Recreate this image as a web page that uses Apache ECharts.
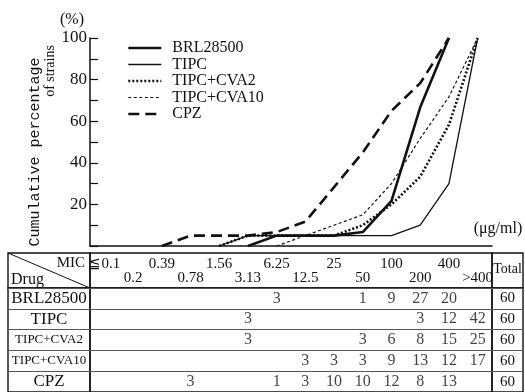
<!DOCTYPE html>
<html>
<head>
<meta charset="utf-8">
<script src="https://cdn.jsdelivr.net/npm/echarts@6/dist/echarts.min.js"></script>
<style>
html,body{margin:0;padding:0;background:#fff;}
#c{width:525px;height:392px;}
</style>
</head>
<body>
<div id="c"></div>
<script>
// ---- data ----
const categories = ['≦0.1','0.2','0.39','0.78','1.56','3.13','6.25','12.5','25','50','100','200','400','>400'];
const drugs = ['BRL28500','TIPC','TIPC+CVA2','TIPC+CVA10','CPZ'];
const yTicks = [0,20,40,60,80,100];

// cumulative percentage of strains
const cumBRL   = [null,null,null,null,null,0,5,5,5,6.7,21.7,66.7,100,null];
const cumTIPC  = [null,null,null,null,0,5,5,5,5,5,5,10,30,100];
const cumCVA2  = [null,null,null,null,0,5,5,5,5,10,20,33.3,58.3,100];
const cumCVA10 = [null,null,null,null,null,null,0,5,10,15,30,51.7,71.7,100];
const cumCPZ   = [null,null,0,5,5,5,6.7,11.7,28.3,45,65,78.3,100,null];

// number of strains per MIC (table)
const cntBRL   = [null,null,null,null,null,null,3,null,null,1,9,27,20,null];
const cntTIPC  = [null,null,null,null,null,3,null,null,null,null,null,3,12,42];
const cntCVA2  = [null,null,null,null,null,3,null,null,null,3,6,8,15,25];
const cntCVA10 = [null,null,null,null,null,null,null,3,3,3,9,13,12,17];
const cntCPZ   = [null,null,null,3,null,null,1,3,10,10,12,8,13,null];
const totals   = [60,60,60,60,60];

// ---- layout ----
const W = 525, H = 392;
const plotL = 90, plotR = 492, plotT = 38, plotB = 246;
const tabL = 8, tabR = 523, tabT = 253, headB = 288, tabB = 392;
const SERIF = '"Liberation Serif","DejaVu Serif",serif';
const ink = '#111';

const counts = [cntBRL, cntTIPC, cntCVA2, cntCVA10, cntCPZ];
const cellData = [];
counts.forEach((row, r) => row.forEach((v, c) => { if (v != null) cellData.push([c, r, v]); }));

const lineDefs = [
  {name:'BRL28500', data:cumBRL, width:2.6, type:'solid'},
  {name:'TIPC', data:cumTIPC, width:1.3, type:'solid'},
  {name:'TIPC+CVA2', data:cumCVA2, width:2.6, type:[2,2]},
  {name:'TIPC+CVA10', data:cumCVA10, width:1.2, type:[3,2.5]},
  {name:'CPZ', data:cumCPZ, width:2.6, type:[11,6]}
];

const hiddenAxis = (type, gi) => ({type, gridIndex: gi, show:false, min:0, max:1});
const bodyY = (gi) => ({type:'category', gridIndex: gi, data: drugs, inverse:true, boundaryGap:true,
  axisLine:{show:false}, axisTick:{show:false}, axisLabel:{show:false},
  splitLine:{show:true, lineStyle:{color:'#555', width:1}}});

const border = {show:true, borderColor: ink, borderWidth:1.4, backgroundColor:'transparent'};

const chart = echarts.init(document.getElementById('c'), null, {renderer:'canvas'});
chart.setOption({
  animation:false,
  backgroundColor:'#fff',
  grid:[
    {left:plotL, right:W-plotR, top:plotT, bottom:H-plotB},                                  // 0 chart
    Object.assign({left:plotL, right:W-plotR, top:headB, bottom:H-tabB}, border),          // 1 MIC body
    Object.assign({left:tabL, width:plotL-tabL, top:headB, bottom:H-tabB}, border),        // 2 drug body
    Object.assign({left:plotR, right:W-tabR, top:headB, bottom:H-tabB}, border),           // 3 total body
    Object.assign({left:tabL, width:plotL-tabL, top:tabT, height:headB-tabT}, border),     // 4 header drug
    Object.assign({left:plotL, right:W-plotR, top:tabT, height:headB-tabT}, border),       // 5 header MIC
    Object.assign({left:plotR, right:W-tabR, top:tabT, height:headB-tabT}, border)         // 6 header total
  ],
  legend:{
    orient:'vertical', left:122, top:35, itemWidth:33, itemHeight:14, itemGap:0.5,
    data: drugs,
    itemStyle:{opacity:0, color:'transparent', borderWidth:0},
    textStyle:{fontFamily:SERIF, fontSize:16, lineHeight:14, color:ink, padding:[0,0,0,6]},
    lineStyle:{width:'inherit'}
  },
  xAxis:[
    {type:'category', gridIndex:0, data:categories, boundaryGap:true,
      axisLine:{lineStyle:{color:ink, width:1.5}},
      axisTick:{inside:true, alignWithLabel:true, length:8, lineStyle:{color:ink, width:1.2}},
      axisLabel:{show:false}, splitLine:{show:false}},
    {type:'category', gridIndex:1, data:categories, boundaryGap:true, position:'top',
      axisLine:{show:false}, axisTick:{show:false},
      axisLabel:{interval:0, margin:3, lineHeight:14, fontFamily:SERIF, fontSize:15, color:ink,
        formatter:(v, i) => (i % 2 === 0) ? (v + '\n ') : (' \n' + v)},
      splitLine:{show:false}},
    hiddenAxis('value', 2), hiddenAxis('value', 3), hiddenAxis('value', 4), hiddenAxis('value', 5), hiddenAxis('value', 6)
  ],
  yAxis:[
    {type:'value', gridIndex:0, min:yTicks[0], max:yTicks[yTicks.length-1], interval:20,
      axisLine:{show:true, lineStyle:{color:ink, width:1.5}},
      axisTick:{show:true, inside:true, length:8, lineStyle:{color:ink, width:1.2}},
      minorTick:{show:true, splitNumber:2, length:8, lineStyle:{color:ink, width:1.2}},
      splitLine:{show:false},
      axisLabel:{margin:3, fontFamily:SERIF, fontSize:17, color:ink, formatter:v => v === 0 ? '' : String(v)}},
    Object.assign(bodyY(1), {axisLabel:{show:true, margin:(plotL-tabL)/2, align:'center', color:ink,
      formatter: v => (v.length > 8 ? '{s|' + v + '}' : '{b|' + v + '}'),
      rich:{b:{fontFamily:SERIF, fontSize:17, color:ink}, s:{fontFamily:SERIF, fontSize:13, color:ink}}}}),
    {type:'category', gridIndex:1, position:'right', data: totals.map(String), inverse:true, boundaryGap:true,
      axisLine:{show:false}, axisTick:{show:false}, splitLine:{show:false},
      axisLabel:{margin:(tabR-plotR)/2, align:'center', fontFamily:SERIF, fontSize:15, color:ink}},
    bodyY(2), bodyY(3),
    hiddenAxis('value', 4), hiddenAxis('value', 5), hiddenAxis('value', 6)
  ],
  series: lineDefs.map(d => ({
    name:d.name, type:'line', xAxisIndex:0, yAxisIndex:0, data:d.data, symbol:'none', connectNulls:false,
    lineStyle:{color:ink, width:d.width, type:d.type}, itemStyle:{color:ink}
  })).concat([{
    type:'scatter', xAxisIndex:1, yAxisIndex:1, data:cellData, symbolSize:0, silent:true,
    label:{show:true, position:'inside', formatter:p => String(p.value[2]), fontFamily:SERIF, fontSize:16, color:ink}
  }]),
  graphic:[
    {type:'text', x:72, y:20, style:{text:'(%)', font:'16px ' + SERIF, fill:ink, align:'center', verticalAlign:'middle'}},
    {type:'text', x:35, y:152, rotation:Math.PI/2, style:{text:'Cumulative percentage', font:'15px "Liberation Mono",monospace', fill:ink, align:'center', verticalAlign:'middle'}},
    {type:'text', x:50, y:71, rotation:Math.PI/2, style:{text:'of strains', font:'14px ' + SERIF, fill:ink, align:'center', verticalAlign:'middle'}},
    {type:'text', x:498, y:229, style:{text:'(μg/ml)', font:'16px ' + SERIF, fill:ink, align:'center', verticalAlign:'middle'}},
    {type:'line', shape:{x1:tabL, y1:tabT, x2:plotL, y2:headB}, style:{stroke:ink, lineWidth:1}},
    {type:'text', x:85, y:263, style:{text:'MIC', font:'15px ' + SERIF, fill:ink, align:'right', verticalAlign:'middle'}},
    {type:'text', x:11, y:280, style:{text:'Drug', font:'16px ' + SERIF, fill:ink, align:'left', verticalAlign:'middle'}},
    {type:'text', x:(plotR+tabR)/2, y:269, style:{text:'Total', font:'14px ' + SERIF, fill:ink, align:'center', verticalAlign:'middle'}}
  ]
});
</script>
</body>
</html>
